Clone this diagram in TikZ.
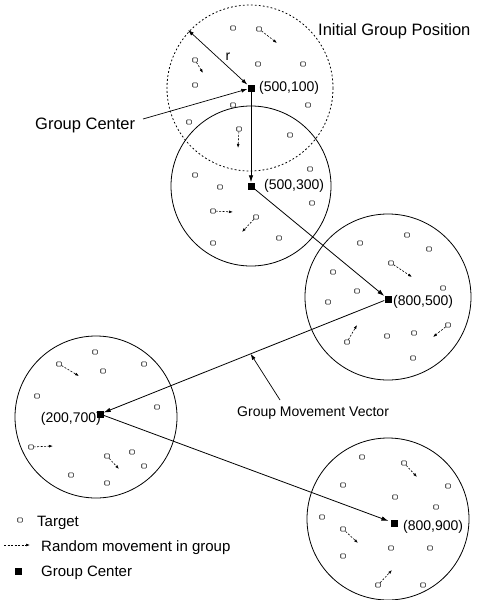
\documentclass[tikz,border=0pt]{standalone}
\usepackage{fontspec}
\setmainfont{Liberation Sans}
\usetikzlibrary{arrows.meta,calc}
\begin{document}
\begin{tikzpicture}[x=1pt,y=-1pt,
  grp/.style={draw,line width=0.8pt},
  grpdash/.style={draw,line width=0.8pt,dash pattern=on 1.8pt off 2.2pt},
  gc/.style={fill=black,draw=none,minimum size=7pt,inner sep=0pt,rectangle},
  tgt/.style={draw,line width=0.6pt,rectangle,rounded corners=0.6pt,minimum width=4.6pt,minimum height=4.2pt,inner sep=0pt,fill=white},
  mainarr/.style={line width=0.8pt,-{Latex[length=7pt,width=4.5pt]}},
  rnd/.style={line width=0.6pt,dash pattern=on 2pt off 1.5pt,-{Latex[length=4pt,width=2.8pt]}},
  lbl/.style={inner sep=0pt,font=\fontsize{14}{16}\selectfont},
  biglbl/.style={inner sep=0pt,font=\fontsize{16.5}{19}\selectfont},
  leglbl/.style={inner sep=0pt,font=\fontsize{15}{18}\selectfont}]
\useasboundingbox (0,0) rectangle (478,600);
% group circles
\draw[grpdash] (250,88) circle (83);
\draw[grp] (251,186) circle (80);
\draw[grp] (388,297) circle (83);
\draw[grp] (96,417) circle (81);
\draw[grp] (388,519) circle (81);
% targets
\foreach \n/\x/\y in {a1/233/28,a2/259/29,a3/195/60,a4/258/64,a5/303/64,a6/195/85,a7/233/105,a8/308/105,a9/189/122,a10/239/129,a11/290/135,
  b1/195/175,b2/220/187,b3/310/169,b4/312/203,b5/213/211,b6/256/217,b7/213/243,b8/279/238,
  d1/360/243,d2/407/235,d3/429/249,d4/391/263,d5/333/272,d6/357/291,d7/443/288,d8/328/302,d9/347/342,d10/387/336,d11/414/333,d12/448/325,d13/413/358,
  e1/95/352,e2/59/364,e3/103/371,e4/144/364,e5/37/396,e6/157/407,e7/31/447,e8/107/456,e9/132/452,e10/144/466,e11/71/475,e12/107/483,
  f1/362/457,f2/404/463,f3/343/485,f4/448/486,f5/395/497,f6/436/507,f7/322/517,f8/343/529,f9/343/556,f10/391/548,f11/430/548,f12/378/585,f13/423/585}
  \node[tgt] (\n) at (\x,\y) {};
% random movements
\foreach \n/\dx/\dy in {a2/18/14,a3/8/13,a10/-1/19,b5/20/1,b6/-14/15,d4/21/14,d9/10/-17,d12/-15/12,e2/20/12,e7/22/-1,e8/12/13,f2/13/14,f8/15/14,f12/14/-15}
  \draw[rnd] (\n) -- ++(\dx,\dy);
% group centers
\node[gc] (c1) at (251,88) {};
\node[gc] (c2) at (251,186) {};
\node[gc] (c3) at (388,299) {};
\node[gc] (c4) at (100,414) {};
\node[gc] (c5) at (394,523) {};
\draw[mainarr] (c1) -- (c2);
\draw[mainarr] (c2) -- (c3);
\draw[mainarr] (c3) -- (c4);
\draw[mainarr,shorten >=2pt] (c4) -- (c5);
% coordinate labels
\node[lbl,anchor=west] (l1) at (259,88) {(500,100)};
\node[lbl,anchor=west] (l2) at (264,186) {(500,300)};
\node[lbl,anchor=west] (l3) at (393,302) {(800,500)};
\node[lbl,anchor=east] (l4) at (101,419) {(200,700)};
\node[lbl,anchor=west] (l5) at (403,527) {(800,900)};
% radius
\coordinate (redge) at (188,30);
\draw[line width=0.7pt,{Latex[length=6pt,width=4pt]}-{Latex[length=6pt,width=4pt]}] (redge) -- (c1);
\node[lbl] (rl) at (228,57) {r};
% annotations
\node[biglbl,anchor=west] (igp) at (318,31) {Initial Group Position};
\node[biglbl,anchor=west] (gcl) at (35,125) {Group Center};
\coordinate (gcs) at (143,119);
\draw[line width=0.7pt,-{Latex[length=6pt,width=4pt]}] (gcs) -- (c1);
\node[lbl,anchor=west] (gmv) at (237,413) {Group Movement Vector};
\coordinate (gmvs) at (280,400);
\coordinate (gmvt) at ($(c3)!0.477!(c4)$);
\draw[line width=0.7pt,-{Latex[length=6pt,width=4pt]}] (gmvs) -- (gmvt);
% legend
\node[tgt] (legt) at (20,520) {};
\node[leglbl,anchor=west] (legtl) at (37,523) {Target};
\coordinate (legr1) at (4,545);
\coordinate (legr2) at (30,545);
\draw[rnd] (legr1) -- (legr2);
\node[leglbl,anchor=west] (legrl) at (41,548) {Random movement in group};
\node[gc] (legg) at (18,571) {};
\node[leglbl,anchor=west] (leggl) at (41,573) {Group Center};
\end{tikzpicture}
\end{document}
